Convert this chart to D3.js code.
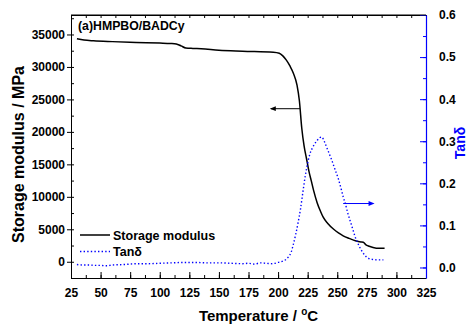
<!DOCTYPE html>
<html>
<head>
<meta charset="utf-8">
<script src="https://cdn.jsdelivr.net/npm/d3@7/dist/d3.min.js"></script>
<style>
  body { margin: 0; background: #fff; }
  svg { font-family: "Liberation Sans", Arial, sans-serif; font-weight: bold; }
</style>
</head>
<body>
<div id="chart"></div>
<script>
// storage modulus (MPa) vs temperature
var tempModulus = [30, 36, 44, 60, 80, 100, 109, 114, 118, 122, 128, 135, 150, 170, 196, 201, 204, 207, 210, 213, 216, 218, 220, 222, 224, 226, 228, 230, 233, 236, 238, 242, 247, 251, 255, 260, 266, 270, 272, 274, 277, 283, 290];
var modulus = [34340, 34150, 34030, 33900, 33780, 33680, 33620, 33540, 33250, 32920, 32850, 32800, 32560, 32420, 32280, 32120, 31700, 31050, 30150, 29000, 27200, 24800, 20600, 17800, 15900, 14000, 12500, 11000, 9100, 7700, 6900, 5900, 5000, 4450, 4000, 3600, 3200, 3050, 3000, 2650, 2380, 2100, 2080];

// tan delta vs temperature
var tempTan = [30, 35, 40, 45, 50, 55, 60, 70, 80, 90, 100, 110, 120, 130, 140, 150, 160, 170, 175, 180, 185, 190, 195, 200, 204, 207, 209, 211, 213, 215, 217, 219, 221, 223, 225, 227, 229, 231, 233, 235, 237, 239, 241, 243, 245, 247, 249, 251, 253, 255, 257, 259, 261, 263, 265, 267, 269, 271, 273, 275, 277, 280, 284, 289];
var tanDelta = [0.007, 0.006, 0.006, 0.005, 0.005, 0.004, 0.006, 0.007, 0.009, 0.009, 0.010, 0.011, 0.012, 0.012, 0.011, 0.011, 0.010, 0.009, 0.010, 0.008, 0.011, 0.010, 0.009, 0.012, 0.015, 0.020, 0.026, 0.036, 0.056, 0.080, 0.108, 0.140, 0.180, 0.218, 0.248, 0.271, 0.284, 0.294, 0.302, 0.308, 0.310, 0.300, 0.286, 0.272, 0.258, 0.242, 0.226, 0.210, 0.190, 0.168, 0.150, 0.128, 0.110, 0.092, 0.074, 0.060, 0.048, 0.038, 0.030, 0.024, 0.021, 0.019, 0.018, 0.018];

var xTicks = [25, 50, 75, 100, 125, 150, 175, 200, 225, 250, 275, 300, 325];
var yLeftTicks = [0, 5000, 10000, 15000, 20000, 25000, 30000, 35000];
var yRightTicks = [0, 0.1, 0.2, 0.3, 0.4, 0.5, 0.6];

var width = 470, height = 324;
var margin = {left: 71, top: 15, right: 44, bottom: 46};
var w = width - margin.left - margin.right;
var h = height - margin.top - margin.bottom;
var blue = "#0000ff";

var svg = d3.select("#chart").append("svg")
  .attr("width", width)
  .attr("height", height);

var g = svg.append("g").attr("transform", "translate(" + margin.left + "," + margin.top + ")");

var x = d3.scaleLinear().domain([25, 325]).range([0, w]);
var yL = d3.scaleLinear().domain([-2500, 38000]).range([h, 0]);
var yR = d3.scaleLinear().domain([-0.025, 0.6]).range([h, 0]);

var xMinor = d3.range(25, 326, 12.5);
var yLMinor = d3.range(-2500, 38001, 2500);
var yRMinor = d3.range(0, 0.601, 0.05);

function boldText(s) {
  s.selectAll("text").attr("font-size", 12).attr("font-weight", "bold").attr("font-family", "Liberation Sans, Arial");
}

// bottom axis: ticks point inward
g.append("g").attr("transform", "translate(0," + h + ")")
  .call(d3.axisBottom(x).tickValues(xMinor).tickSize(-3).tickFormat(""))
  .call(function (s) { s.select(".domain").remove(); });
g.append("g").attr("transform", "translate(0," + h + ")")
  .call(d3.axisBottom(x).tickValues(xTicks).tickSize(-6).tickPadding(10).tickSizeOuter(0))
  .call(boldText)
  .call(function (s) { s.selectAll("text").attr("dy", "0.71em"); });

// top axis
g.append("g")
  .call(d3.axisTop(x).tickValues(xMinor).tickSize(-3).tickFormat("").tickSizeOuter(0));

// left axis: majors outward, minors inward
g.append("g")
  .call(d3.axisLeft(yL).tickValues(yLMinor).tickSize(-3).tickFormat(""))
  .call(function (s) { s.select(".domain").remove(); });
g.append("g")
  .call(d3.axisLeft(yL).tickValues(yLeftTicks).tickSize(4).tickPadding(2).tickSizeOuter(0).tickFormat(d3.format("d")))
  .call(boldText);

// right axis, blue, ticks inward
var right = g.append("g").attr("transform", "translate(" + w + ",0)");
right.call(d3.axisRight(yR).tickValues(yRMinor).tickSize(-3).tickFormat(""))
  .call(function (s) { s.select(".domain").remove(); });
var rightMajor = g.append("g").attr("transform", "translate(" + w + ",0)")
  .call(d3.axisRight(yR).tickValues(yRightTicks).tickSize(-6).tickPadding(13).tickSizeOuter(0).tickFormat(d3.format(".1f")))
  .call(boldText)
  .call(function (s) { s.selectAll("text").attr("fill", "#000"); });
right.selectAll("line").attr("stroke", blue);
rightMajor.selectAll("line").attr("stroke", blue);
rightMajor.select(".domain").attr("stroke", blue).attr("stroke-width", 1.2);

// lines
var smLine = d3.line()
  .x(function (d, i) { return x(tempModulus[i]); })
  .y(function (d) { return yL(d); })
  .curve(d3.curveMonotoneX);

var tanLine = d3.line()
  .x(function (d, i) { return x(tempTan[i]); })
  .y(function (d) { return yR(d); })
  .curve(d3.curveMonotoneX);

g.append("path").datum(modulus)
  .attr("d", smLine)
  .attr("fill", "none")
  .attr("stroke", "#000")
  .attr("stroke-width", 1.5);

g.append("path").datum(tanDelta)
  .attr("d", tanLine)
  .attr("fill", "none")
  .attr("stroke", blue)
  .attr("stroke-width", 1.4)
  .attr("stroke-dasharray", "1.4,2.2");

// arrow markers
var defs = svg.append("defs");
function marker(id, color) {
  defs.append("marker").attr("id", id)
    .attr("viewBox", "0 0 10 10").attr("refX", 8).attr("refY", 5)
    .attr("markerWidth", 7).attr("markerHeight", 6).attr("orient", "auto")
    .attr("markerUnits", "userSpaceOnUse")
    .append("path").attr("d", "M0,1 L10,5 L0,9 Z").attr("fill", color);
}
marker("arrowK", "#000");
marker("arrowB", blue);

g.append("line")
  .attr("x1", x(218.5)).attr("x2", x(194))
  .attr("y1", yL(23570)).attr("y2", yL(23570))
  .attr("stroke", "#000").attr("stroke-width", 1)
  .attr("marker-end", "url(#arrowK)");

g.append("line")
  .attr("x1", x(255)).attr("x2", x(280.5))
  .attr("y1", yR(0.152)).attr("y2", yR(0.152))
  .attr("stroke", blue).attr("stroke-width", 1)
  .attr("marker-end", "url(#arrowB)");

// axis frame
g.append("line").attr("x1", 0).attr("x2", w).attr("y1", 0).attr("y2", 0).attr("stroke", "#000").attr("stroke-width", 1.2);

// title inside plot
g.append("text").attr("x", 7).attr("y", 15)
  .attr("font-size", 12.3).text("(a)HMPBO/BADCy");

// legend
var legend = g.append("g").attr("transform", "translate(9,220)");
legend.append("line").attr("x1", 0).attr("x2", 30).attr("y1", 0).attr("y2", 0)
  .attr("stroke", "#000").attr("stroke-width", 1.5);
legend.append("text").attr("x", 33).attr("y", 4.5).attr("font-size", 12.5).text("Storage modulus");
legend.append("line").attr("x1", 0).attr("x2", 30).attr("y1", 16.5).attr("y2", 16.5)
  .attr("stroke", blue).attr("stroke-width", 1.4).attr("stroke-dasharray", "1.4,2.2");
legend.append("text").attr("x", 33).attr("y", 21).attr("font-size", 12.5).text("Tanδ");

// axis titles
svg.append("text")
  .attr("transform", "translate(24," + (margin.top + h / 2 + 8) + ") rotate(-90)")
  .attr("text-anchor", "middle").attr("font-size", 16)
  .text("Storage modulus / MPa");

var xt = svg.append("text")
  .attr("x", margin.left + w / 2 + 10).attr("y", 321)
  .attr("text-anchor", "middle").attr("font-size", 15);
xt.append("tspan").text("Temperature / ");
xt.append("tspan").attr("font-size", 10).attr("dy", -6).text("o");
xt.append("tspan").attr("dy", 6).text("C");

svg.append("text")
  .attr("transform", "translate(465,143) rotate(-90)")
  .attr("text-anchor", "middle").attr("font-size", 14).attr("fill", blue)
  .text("Tanδ");
</script>
</body>
</html>
